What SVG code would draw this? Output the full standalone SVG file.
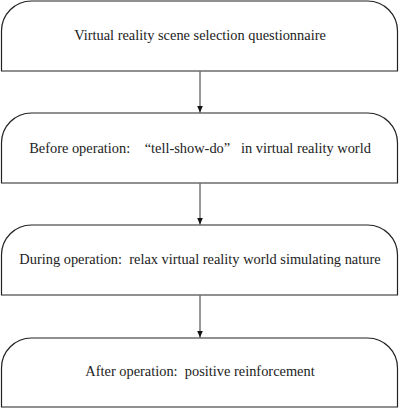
<svg xmlns="http://www.w3.org/2000/svg" width="400" height="409" viewBox="0 0 400 409">
<defs>
<style>
.box{fill:#fff;stroke:#222;stroke-width:1.2}
.lbl{font-family:"Liberation Serif","Times New Roman",serif;font-size:14.4px;fill:#222;text-anchor:middle;white-space:pre}
.conn{stroke:#333;stroke-width:1;fill:none;marker-end:url(#ah)}
</style>
<marker id="ah" viewBox="0 0 7 6" refX="7" refY="3" markerWidth="7" markerHeight="6" markerUnits="userSpaceOnUse" orient="auto">
<path d="M0,0 L7,3 L0,6 Z" fill="#111"/>
</marker>
</defs>
<rect width="400" height="409" fill="#fff"/>
<g id="connectors">
<line class="conn" x1="200" y1="71.5" x2="200" y2="112.5"/>
<line class="conn" x1="200" y1="183.5" x2="200" y2="224.5"/>
<line class="conn" x1="200" y1="295.5" x2="200" y2="337.5"/>
</g>
<g id="node1">
<path class="box" d="M1.5,71 V31 A30,30 0 0 1 31.5,1 H367.5 A30,30 0 0 1 397.5,31 V71 Z"/>
<text class="lbl" x="200" y="40">Virtual reality scene selection questionnaire</text>
</g>
<g id="node2">
<path class="box" d="M1.5,183 V143 A30,30 0 0 1 31.5,113 H367.5 A30,30 0 0 1 397.5,143 V183 Z"/>
<text class="lbl" x="200" y="153">Before operation:    “tell-show-do”   in virtual reality world</text>
</g>
<g id="node3">
<path class="box" d="M1.5,295 V255 A30,30 0 0 1 31.5,225 H367.5 A30,30 0 0 1 397.5,255 V295 Z"/>
<text class="lbl" x="200" y="264">During operation:  relax virtual reality world simulating nature</text>
</g>
<g id="node4">
<path class="box" d="M1.5,407 V368 A30,30 0 0 1 31.5,338 H367.5 A30,30 0 0 1 397.5,368 V407 Z"/>
<text class="lbl" x="200" y="376">After operation:  positive reinforcement</text>
</g>
</svg>
